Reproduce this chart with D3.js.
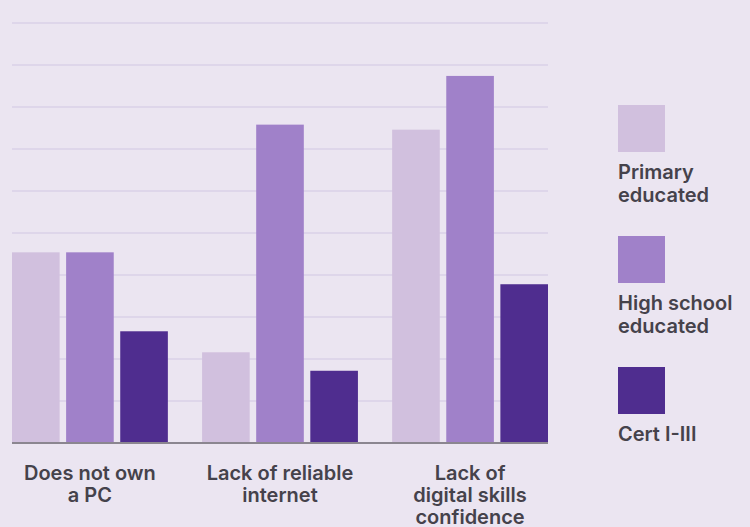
<!DOCTYPE html>
<html>
<head>
<meta charset="utf-8">
<script src="https://cdn.jsdelivr.net/npm/d3@7"></script>
<style>
  html, body { margin: 0; padding: 0; background: #ebe5f1; }
  svg { display: block; }
  text { font-family: Inter, "Noto Sans", sans-serif; font-weight: 600; fill: #45424b; }
</style>
</head>
<body>
<svg id="chart" width="750" height="527"></svg>
<script>
// Barriers to digital access, share of respondents (%) by education level
const categories = [
  ["Does not own", "a PC"],
  ["Lack of reliable", "internet"],
  ["Lack of", "digital skills", "confidence"]
];
const seriesNames = [["Primary", "educated"], ["High school", "educated"], ["Cert I-III"]];
const primaryEducated = [22.7, 10.8, 37.3];
const highSchoolEducated = [22.7, 37.9, 43.7];
const certOneToThree = [13.3, 8.6, 18.9];
const gridTicks = [5, 10, 15, 20, 25, 30, 35, 40, 45, 50];

const colors = ["#d1c0de", "#a081c9", "#4f2d8f"];
const seriesValues = [primaryEducated, highSchoolEducated, certOneToThree];

const svg = d3.select("#chart");
const plot = { left: 12, right: 548, top: 23, bottom: 443 };

const x0 = d3.scaleBand()
  .domain(d3.range(categories.length))
  .range([plot.left, plot.right])
  .paddingInner(0.18)
  .paddingOuter(0);

const x1 = d3.scaleBand()
  .domain(d3.range(seriesValues.length))
  .range([0, x0.bandwidth()])
  .paddingInner(0.12)
  .paddingOuter(0);

const y = d3.scaleLinear().domain([0, 50]).range([plot.bottom, plot.top]);

// horizontal gridlines
svg.append("g")
  .selectAll("line")
  .data(gridTicks)
  .join("line")
  .attr("x1", plot.left)
  .attr("x2", plot.right)
  .attr("y1", d => y(d))
  .attr("y2", d => y(d))
  .attr("stroke", "#ded6ea")
  .attr("stroke-width", 2);

// grouped bars
const groups = svg.append("g")
  .selectAll("g")
  .data(categories.map((c, i) => i))
  .join("g")
  .attr("transform", i => `translate(${x0(i)},0)`);

groups.selectAll("rect")
  .data(i => seriesValues.map((vals, s) => ({ s, v: vals[i] })))
  .join("rect")
  .attr("x", d => x1(d.s))
  .attr("width", x1.bandwidth())
  .attr("y", d => y(d.v))
  .attr("height", d => y(0) - y(d.v))
  .attr("fill", d => colors[d.s]);

// baseline
svg.append("line")
  .attr("x1", plot.left)
  .attr("x2", plot.right)
  .attr("y1", y(0))
  .attr("y2", y(0))
  .attr("stroke", "#8b8690")
  .attr("stroke-width", 2);

// category labels
svg.append("g")
  .selectAll("text")
  .data(categories.map((lines, i) => ({ lines, i })))
  .join("text")
  .attr("text-anchor", "middle")
  .attr("font-size", 20)
  .attr("x", d => x0(d.i) + x0.bandwidth() / 2)
  .attr("y", 480)
  .selectAll("tspan")
  .data(d => d.lines.map((t, k) => ({ t, k, x: x0(d.i) + x0.bandwidth() / 2 })))
  .join("tspan")
  .attr("x", d => d.x)
  .attr("dy", d => d.k === 0 ? 0 : 22)
  .text(d => d.t);

// legend
const legend = svg.append("g")
  .selectAll("g")
  .data(seriesNames.map((lines, s) => ({ lines, s })))
  .join("g")
  .attr("transform", d => `translate(618,${105 + d.s * 131})`);

legend.append("rect")
  .attr("width", 47)
  .attr("height", 47)
  .attr("fill", d => colors[d.s]);

legend.append("text")
  .attr("font-size", 20)
  .attr("y", 74)
  .selectAll("tspan")
  .data(d => d.lines.map((t, k) => ({ t, k })))
  .join("tspan")
  .attr("x", 0)
  .attr("dy", d => d.k === 0 ? 0 : 23)
  .text(d => d.t);
</script>
</body>
</html>
